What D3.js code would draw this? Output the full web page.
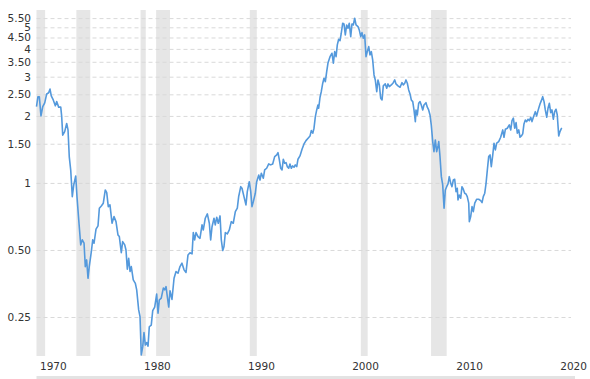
<!DOCTYPE html>
<html>
<head>
<meta charset="utf-8">
<script src="https://cdn.jsdelivr.net/npm/d3@7"></script>
<style>
  html, body { margin: 0; padding: 0; background: #fff; }
  svg { display: block; }
  text { font-family: "DejaVu Sans", Verdana, sans-serif; }
</style>
</head>
<body>
<div id="chart"></div>
<script>
// S&P 500 to gold ratio (log scale), [decimal year, ratio]
const ratioSeries = [
  [1970.00,2.20],[1970.14,2.44],[1970.27,2.44],[1970.43,2.00],[1970.60,2.20],[1970.79,2.29],[1970.98,2.51],
  [1971.17,2.54],[1971.30,2.64],[1971.42,2.46],[1971.61,2.36],[1971.81,2.22],[1971.94,2.32],[1972.13,2.19],
  [1972.33,2.19],[1972.42,1.99],[1972.52,1.64],[1972.71,1.70],[1972.90,1.85],[1973.03,1.73],[1973.15,1.31],
  [1973.29,1.14],[1973.44,0.868],[1973.58,0.980],[1973.77,1.075],[1973.89,0.868],[1974.06,0.682],[1974.25,0.527],
  [1974.40,0.555],[1974.57,0.536],[1974.69,0.421],[1974.82,0.451],[1974.95,0.373],[1975.07,0.421],[1975.27,0.491],
  [1975.40,0.555],[1975.53,0.536],[1975.72,0.620],[1975.91,0.641],[1976.04,0.770],[1976.23,0.788],[1976.42,0.811],
  [1976.61,0.930],[1976.75,0.905],[1976.90,0.783],[1977.06,0.797],[1977.26,0.659],[1977.45,0.706],[1977.64,0.670],
  [1977.83,0.584],[1977.96,0.574],[1978.15,0.486],[1978.28,0.545],[1978.48,0.527],[1978.60,0.500],[1978.73,0.410],
  [1978.86,0.459],[1978.99,0.400],[1979.11,0.421],[1979.30,0.367],[1979.50,0.354],[1979.63,0.331],[1979.82,0.269],
  [1979.95,0.251],[1980.07,0.169],[1980.21,0.184],[1980.33,0.213],[1980.46,0.187],[1980.59,0.192],[1980.72,0.185],
  [1980.84,0.226],[1981.03,0.230],[1981.17,0.267],[1981.36,0.277],[1981.55,0.317],[1981.68,0.260],[1981.80,0.298],
  [1981.99,0.304],[1982.19,0.337],[1982.32,0.331],[1982.45,0.342],[1982.57,0.309],[1982.71,0.277],[1982.83,0.328],
  [1983.02,0.300],[1983.22,0.373],[1983.41,0.400],[1983.60,0.393],[1983.79,0.421],[1983.98,0.436],[1984.18,0.407],
  [1984.37,0.396],[1984.56,0.475],[1984.75,0.486],[1984.95,0.480],[1985.07,0.598],[1985.20,0.555],[1985.33,0.598],
  [1985.52,0.574],[1985.71,0.564],[1985.91,0.648],[1986.03,0.615],[1986.22,0.694],[1986.42,0.726],[1986.61,0.659],
  [1986.74,0.555],[1986.87,0.636],[1987.06,0.694],[1987.18,0.648],[1987.32,0.701],[1987.47,0.659],[1987.64,0.711],
  [1987.76,0.555],[1987.90,0.497],[1988.02,0.518],[1988.15,0.598],[1988.34,0.590],[1988.53,0.615],[1988.72,0.670],
  [1988.91,0.659],[1989.11,0.743],[1989.30,0.770],[1989.43,0.868],[1989.63,0.962],[1989.75,0.947],[1989.94,0.868],
  [1990.13,0.797],[1990.26,0.914],[1990.45,1.013],[1990.59,0.914],[1990.71,0.783],[1990.84,0.824],[1991.03,0.899],
  [1991.16,1.013],[1991.36,1.086],[1991.48,1.031],[1991.61,1.106],[1991.80,1.050],[1991.93,1.144],[1992.12,1.164],
  [1992.32,1.217],[1992.51,1.205],[1992.70,1.217],[1992.89,1.313],[1993.09,1.336],[1993.21,1.368],[1993.34,1.268],
  [1993.47,1.164],[1993.60,1.144],[1993.72,1.278],[1993.85,1.226],[1993.98,1.234],[1994.10,1.184],[1994.24,1.164],
  [1994.36,1.217],[1994.49,1.164],[1994.62,1.192],[1994.75,1.176],[1994.87,1.205],[1995.01,1.184],[1995.13,1.278],
  [1995.32,1.322],[1995.52,1.417],[1995.71,1.497],[1995.90,1.549],[1996.10,1.588],[1996.29,1.626],[1996.41,1.718],
  [1996.55,1.672],[1996.67,1.761],[1996.80,1.985],[1996.93,2.127],[1997.05,2.240],[1997.12,2.165],[1997.25,2.426],
  [1997.37,2.571],[1997.51,2.804],[1997.63,2.953],[1997.76,2.851],[1997.89,3.161],[1998.02,3.470],[1998.21,3.692],
  [1998.40,3.824],[1998.53,3.448],[1998.66,3.888],[1998.79,3.692],[1998.91,4.167],[1999.04,4.419],[1999.17,4.356],
  [1999.29,4.702],[1999.43,5.215],[1999.55,5.177],[1999.68,4.621],[1999.81,5.124],[1999.94,4.952],[2000.06,5.215],
  [2000.20,4.540],[2000.32,5.177],[2000.45,5.124],[2000.58,5.491],[2000.71,5.124],[2000.90,5.035],[2001.02,4.865],
  [2001.16,4.540],[2001.28,4.732],[2001.41,4.465],[2001.54,4.621],[2001.67,3.692],[2001.79,3.888],[2001.93,4.094],
  [2002.05,3.757],[2002.18,3.888],[2002.31,3.568],[2002.44,3.055],[2002.56,2.901],[2002.70,2.571],[2002.82,2.901],
  [2002.95,2.755],[2003.08,2.401],[2003.21,2.359],[2003.33,2.727],[2003.52,2.784],[2003.66,2.663],[2003.78,2.784],
  [2003.91,2.707],[2004.10,2.755],[2004.29,2.821],[2004.43,2.901],[2004.55,2.784],[2004.74,2.727],[2004.94,2.690],
  [2005.13,2.821],[2005.25,2.755],[2005.39,2.804],[2005.51,2.901],[2005.64,2.804],[2005.77,2.616],[2005.90,2.510],
  [2006.02,2.359],[2006.16,2.318],[2006.28,2.127],[2006.41,1.885],[2006.47,2.127],[2006.60,2.020],[2006.73,2.280],
  [2006.86,2.318],[2006.98,2.240],[2007.12,2.127],[2007.24,2.240],[2007.43,2.294],[2007.56,2.188],[2007.69,2.127],
  [2007.82,2.020],[2007.94,1.822],[2008.08,1.533],[2008.20,1.382],[2008.33,1.560],[2008.46,1.382],[2008.59,1.466],
  [2008.66,1.533],[2008.78,1.313],[2008.91,1.067],[2009.04,0.980],[2009.17,0.770],[2009.29,0.930],[2009.42,0.962],
  [2009.55,0.990],[2009.67,1.067],[2009.81,0.997],[2009.93,0.962],[2010.06,1.031],[2010.19,1.039],[2010.32,0.914],
  [2010.44,0.947],[2010.51,0.839],[2010.63,0.883],[2010.77,0.854],[2010.89,0.962],[2011.02,0.937],[2011.15,0.899],
  [2011.28,0.892],[2011.40,0.868],[2011.54,0.811],[2011.60,0.670],[2011.73,0.706],[2011.86,0.783],[2011.98,0.743],
  [2012.12,0.811],[2012.31,0.845],[2012.50,0.845],[2012.69,0.833],[2012.82,0.816],[2012.94,0.868],[2013.08,0.899],
  [2013.20,0.990],[2013.33,1.144],[2013.46,1.313],[2013.59,1.336],[2013.71,1.184],[2013.85,1.336],[2013.97,1.508],
  [2014.10,1.407],[2014.23,1.508],[2014.42,1.533],[2014.61,1.604],[2014.81,1.730],[2014.93,1.604],[2015.06,1.742],
  [2015.25,1.761],[2015.44,1.822],[2015.58,1.730],[2015.70,1.905],[2015.83,1.953],[2015.96,1.761],[2016.09,1.866],
  [2016.21,1.672],[2016.35,1.730],[2016.47,1.604],[2016.60,1.626],[2016.73,1.660],[2016.85,1.841],[2016.98,1.918],
  [2017.11,1.885],[2017.24,1.932],[2017.37,1.905],[2017.50,1.973],[2017.62,1.885],[2017.75,1.973],[2017.94,2.090],
  [2018.07,2.000],[2018.20,2.112],[2018.39,2.263],[2018.52,2.342],[2018.65,2.441],[2018.78,2.318],[2018.90,2.127],
  [2019.04,1.973],[2019.16,2.165],[2019.29,2.280],[2019.42,2.069],[2019.54,2.127],[2019.67,1.932],[2019.80,2.090],
  [2019.93,2.143],[2020.05,2.020],[2020.19,1.626],[2020.31,1.700],[2020.44,1.753],[2020.51,1.761]
];

// Recession periods (decimal years)
const recessions = [
  [1969.92,1970.83],[1973.83,1975.17],[1980.00,1980.50],[1981.50,1982.83],
  [1990.50,1991.17],[2001.17,2001.83],[2007.92,2009.42]
];

const yTickValues = [0.25,0.5,1,1.5,2,2.5,3,3.5,4,4.5,5,5.5];
const yTickLabels = ["0.25","0.50","1","1.50","2","2.50","3","3.50","4","4.50","5","5.50"];
const xTickValues = [1970,1980,1990,2000,2010,2020];
const xDomain = [1970, 2021.37];
const yDomain = [0.167, 5.98];

const W = 590, H = 379;
const plot = {left: 36.5, right: 571, top: 10, bottom: 356};

const svg = d3.select("#chart").append("svg")
  .attr("width", W).attr("height", H);

const x = d3.scaleLinear().domain(xDomain).range([plot.left, plot.right]);
const y = d3.scaleLog().domain(yDomain).range([plot.bottom, plot.top]);

// recession bands
svg.append("g").selectAll("rect").data(recessions).join("rect")
  .attr("x", d => x(Math.max(d[0], xDomain[0])))
  .attr("width", d => x(d[1]) - x(Math.max(d[0], xDomain[0])))
  .attr("y", plot.top)
  .attr("height", plot.bottom - plot.top)
  .attr("fill", "#e6e6e6");

// y grid + labels
const yAxis = d3.axisLeft(y)
  .tickValues(yTickValues)
  .tickFormat((d, i) => yTickLabels[i])
  .tickSize(-(plot.right - plot.left))
  .tickPadding(6);

const gy = svg.append("g")
  .attr("transform", `translate(${plot.left},0)`)
  .call(yAxis);
gy.select(".domain").remove();
gy.selectAll(".tick line")
  .attr("stroke", "#d9d9d9")
  .attr("stroke-dasharray", "4,3");
gy.selectAll(".tick text")
  .attr("x", 31 - plot.left)
  .attr("fill", "#333")
  .style("font-size", "10.5px")
  .style("font-family", "'DejaVu Sans', Verdana, sans-serif");

// x labels
const xAxis = d3.axisBottom(x)
  .tickValues(xTickValues)
  .tickFormat(d3.format("d"))
  .tickSize(0);
const gx = svg.append("g")
  .attr("transform", `translate(0,${plot.bottom})`)
  .call(xAxis);
gx.select(".domain").remove();
gx.selectAll(".tick text")
  .attr("text-anchor", "start")
  .attr("x", 3)
  .attr("y", 14)
  .attr("dy", "0")
  .attr("fill", "#333")
  .style("font-size", "10.5px")
  .style("font-family", "'DejaVu Sans', Verdana, sans-serif");

// line
const line = d3.line()
  .x(d => x(d[0]))
  .y(d => y(d[1]));

svg.append("path")
  .datum(ratioSeries)
  .attr("fill", "none")
  .attr("stroke", "#5499dc")
  .attr("stroke-width", 1.6)
  .attr("stroke-linejoin", "round")
  .attr("d", line);

// scrollbar strip at the bottom
svg.append("rect")
  .attr("x", plot.left).attr("y", 376)
  .attr("width", 575 - plot.left).attr("height", 3)
  .attr("fill", "#e3e3e3");
</script>
</body>
</html>
